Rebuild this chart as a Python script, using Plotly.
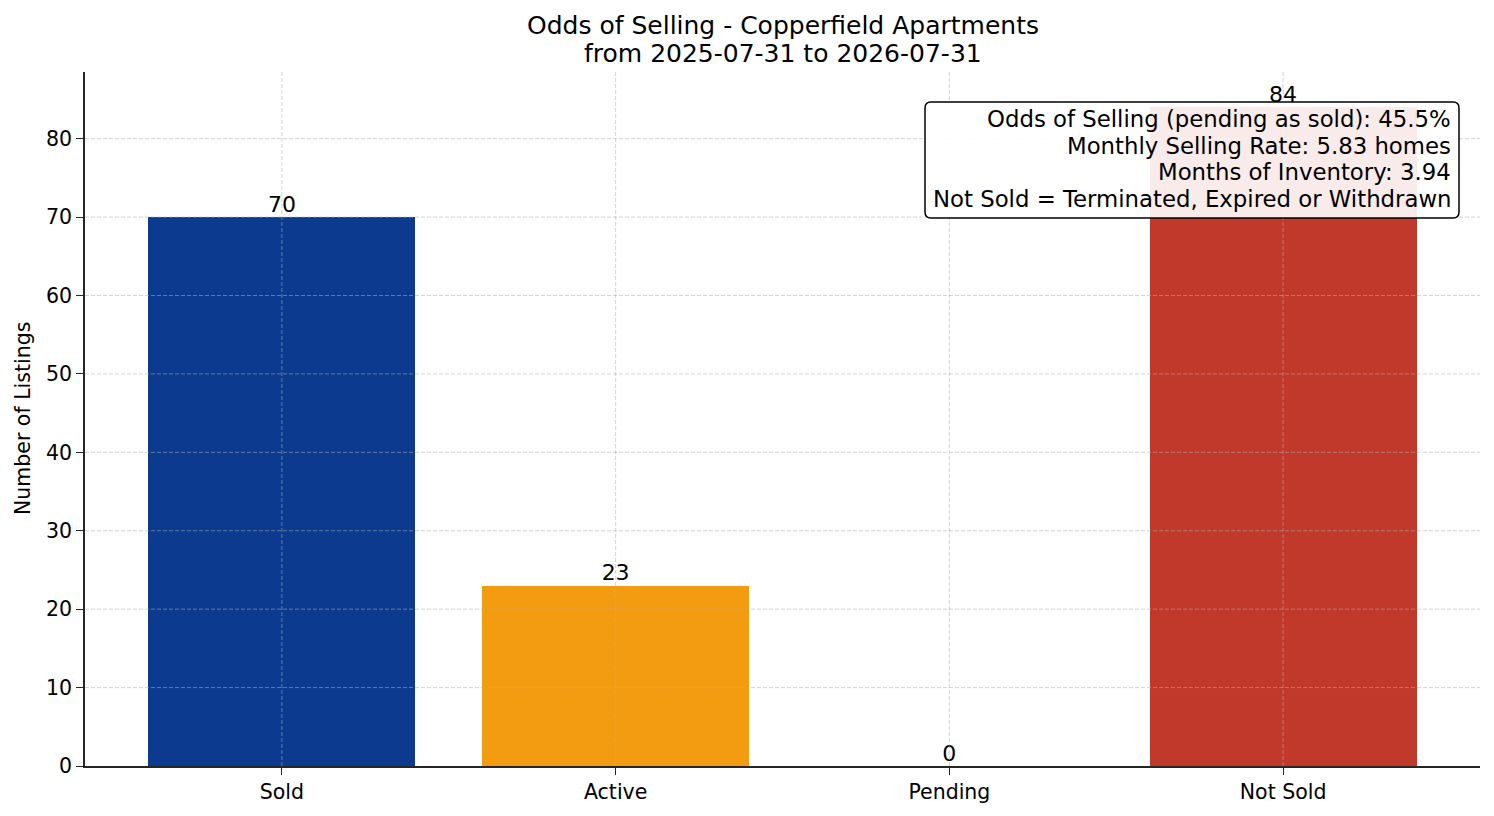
import plotly.graph_objects as go

# Listing status counts
categories = ["Sold", "Active", "Pending", "Not Sold"]
counts = [70, 23, 0, 84]
bar_colors = ["#0b3a8e", "#f39c12", "#8e44ad", "#c0392b"]

y_ticks = [0, 10, 20, 30, 40, 50, 60, 70, 80]

title_lines = ["Odds of Selling - Copperfield Apartments", "from 2025-07-31 to 2026-07-31"]
stats_lines = [
    "Odds of Selling (pending as sold): 45.5%",
    "Monthly Selling Rate: 5.83 homes",
    "Months of Inventory: 3.94",
    "Not Sold = Terminated, Expired or Withdrawn",
]

FONT = "DejaVu Sans"
W, H = 1494, 816
OFF = 8  # page body margin shifts the figure
# plot area edges as they appear on screen
PL, PR, PT, PB = 85, 1480, 72, 766
PW, PH = PR - PL, PB - PT


def px_x(p):
    return (p - PL) / PW


def px_y(p):
    return (PB - p) / PH


fig = go.Figure()

fig.add_trace(go.Bar(
    x=categories, y=counts, width=0.8,
    marker=dict(color=bar_colors, line=dict(width=0)),
    showlegend=False, hoverinfo="x+y",
))

# value labels above bars
fig.add_trace(go.Scatter(
    x=categories, y=counts, mode="text", text=[str(c) for c in counts],
    textposition="top center", textfont=dict(family=FONT, size=22, color="black"),
    showlegend=False, hoverinfo="skip", cliponaxis=False,
))

# dashed grid drawn over the bars, like the original
grid = dict(color="rgba(176,176,176,0.55)", width=1, dash="4px,2px")
for v in y_ticks[1:]:
    fig.add_shape(type="line", xref="paper", yref="y", x0=0, x1=1, y0=v, y1=v,
                  line=grid, layer="above")
for c in categories:
    fig.add_shape(type="line", xref="x", yref="paper", x0=c, x1=c, y0=0, y1=1,
                  line=grid, layer="above")

# rounded stats box
bx0, bx1, by0, by1 = px_x(925), px_x(1459), px_y(218), px_y(102)
rx, ry = 6 / PW, 6 / PH
path = (f"M {bx0+rx},{by0} L {bx1-rx},{by0} Q {bx1},{by0} {bx1},{by0+ry} "
        f"L {bx1},{by1-ry} Q {bx1},{by1} {bx1-rx},{by1} "
        f"L {bx0+rx},{by1} Q {bx0},{by1} {bx0},{by1-ry} "
        f"L {bx0},{by0+ry} Q {bx0},{by0} {bx0+rx},{by0} Z")
fig.add_shape(type="path", xref="paper", yref="paper", path=path,
              fillcolor="rgba(255,255,255,0.9)", line=dict(color="black", width=1.5),
              layer="above")

for i, line in enumerate(stats_lines):
    fig.add_annotation(
        x=px_x(1453), y=px_y(119 + i * 26.7), xref="paper", yref="paper",
        text=line, showarrow=False, xanchor="right", yanchor="middle",
        font=dict(family=FONT, size=22.8, color="black"),
    )

for i, line in enumerate(title_lines):
    fig.add_annotation(
        x=0.5, y=px_y(26 + i * 27.5), xref="paper", yref="paper",
        text=line, showarrow=False, xanchor="center", yanchor="middle",
        font=dict(family=FONT, size=25, color="black"),
    )

fig.add_annotation(
    x=px_x(23), y=0.5, xref="paper", yref="paper", text="Number of Listings",
    textangle=-90, showarrow=False, xanchor="center", yanchor="middle",
    font=dict(family=FONT, size=20.5, color="black"),
)

axis_common = dict(
    showline=True, linecolor="#262626", linewidth=1.6,
    ticks="outside", ticklen=7, tickwidth=1.4, tickcolor="#262626",
    tickfont=dict(family=FONT, size=20.5, color="black"),
    showgrid=False, zeroline=False,
)

fig.update_xaxes(type="category", range=[-0.59, 3.59], **axis_common)
fig.update_yaxes(range=[0, 88.5], tickvals=y_ticks, **axis_common)

fig.update_layout(
    width=W, height=H,
    margin=dict(l=PL - OFF, r=W - (PR - OFF), t=PT - OFF, b=H - (PB - OFF)),
    plot_bgcolor="white", paper_bgcolor="white",
    font=dict(family=FONT, color="black"),
    bargap=0,
)

fig.write_html("out.html")
